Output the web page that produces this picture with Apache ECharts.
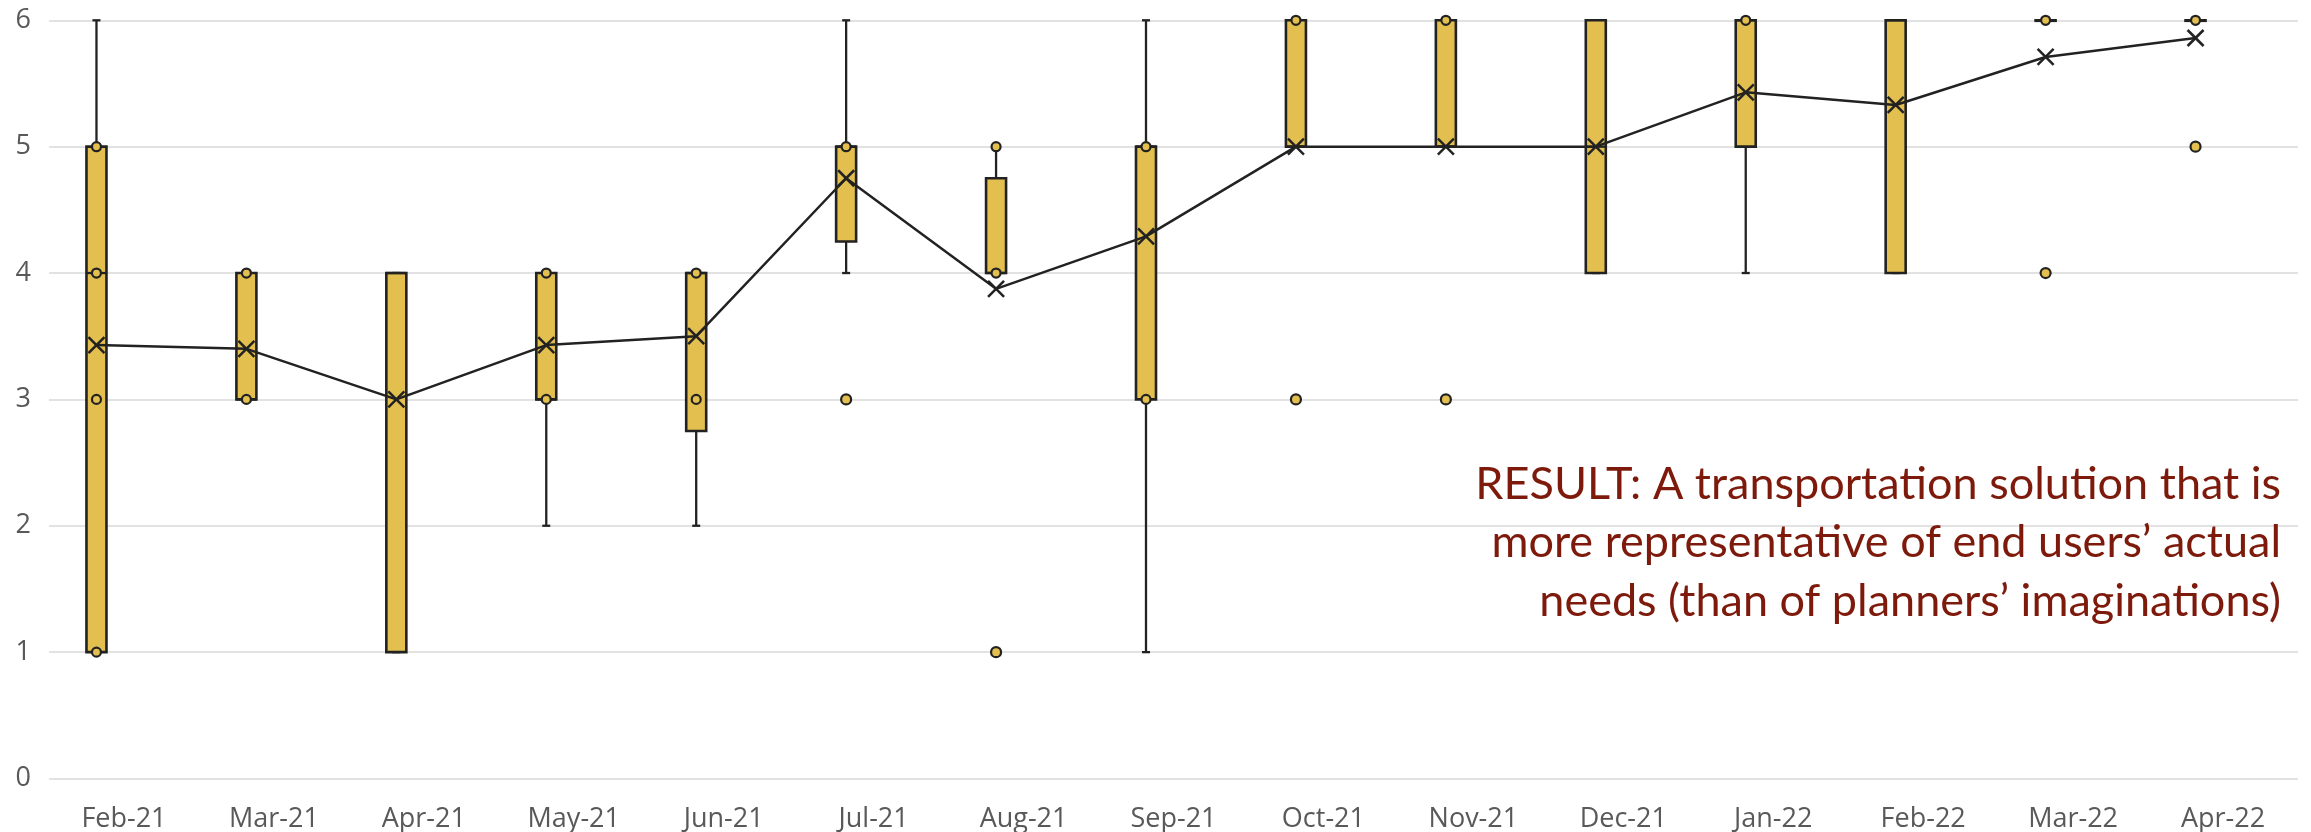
<!DOCTYPE html>
<html><head><meta charset="utf-8">
<script src="https://cdn.jsdelivr.net/npm/echarts@6/dist/echarts.min.js"></script>
<style>html,body{margin:0;padding:0;background:#fff}#c{width:2311px;height:832px}</style>
</head><body><div id="c"></div>
<script>
const categories = ['Feb-21','Mar-21','Apr-21','May-21','Jun-21','Jul-21','Aug-21','Sep-21','Oct-21','Nov-21','Dec-21','Jan-22','Feb-22','Mar-22','Apr-22'];
const whiskerMin = [1, 3, 1, 2, 2,    4,    4,    1, 5, 5, 4, 4, 4, 6, 6];
const q1         = [1, 3, 1, 3, 2.75, 4.25, 4,    3, 5, 5, 4, 5, 4, 6, 6];
const median     = [4, 3, 4, 3, 4,    5,    4,    5, 5, 5, 5, 6, 6, 6, 6];
const q3         = [5, 4, 4, 4, 4,    5,    4.75, 5, 6, 6, 6, 6, 6, 6, 6];
const whiskerMax = [6, 4, 4, 4, 4,    6,    5,    6, 6, 6, 6, 6, 6, 6, 6];
const means      = [3.43, 3.4, 3.0, 3.43, 3.5, 4.75, 3.875, 4.29, 5.0, 5.0, 5.0, 5.43, 5.33, 5.71, 5.86];
const innerPoints = [[1,3,4,5],[3,4],[],[3,4],[3,4],[5],[4,5],[3,5],[6],[6],[],[6],[],[6],[6]];
const outliers    = [[],[],[],[],[],[3],[1],[],[3],[3],[],[],[],[4],[5]];
const yTicks = [0,1,2,3,4,5,6];
const noteLines = ['RESULT: A transportation solution that is',
                   'more representative of end users\u2019 actual',
                   'needs (than of planners\u2019 imaginations)'];

const GOLD = '#E3BF50', INK = '#222222';
const chart = echarts.init(document.getElementById('c'), null, {renderer:'canvas'});

const boxData = categories.map((c,i)=>[i, whiskerMin[i], q1[i], median[i], q3[i], whiskerMax[i]]);
const innerData = [], outData = [];
innerPoints.forEach((arr,i)=>arr.forEach(v=>innerData.push([i,v])));
outliers.forEach((arr,i)=>arr.forEach(v=>outData.push([i,v])));

function renderBox(params, api){
  const i = api.value(0);
  const lo = api.coord([i, api.value(1)]);
  const b1 = api.coord([i, api.value(2)]);
  const md = api.coord([i, api.value(3)]);
  const b3 = api.coord([i, api.value(4)]);
  const hi = api.coord([i, api.value(5)]);
  const x = lo[0], w = 20, cap = 4;
  const ls = {stroke: INK, lineWidth: 2.3};
  return {type:'group', children:[
    {type:'line', shape:{x1:x,y1:hi[1],x2:x,y2:lo[1]}, style:ls},
    {type:'line', shape:{x1:x-cap,y1:hi[1],x2:x+cap,y2:hi[1]}, style:ls},
    {type:'line', shape:{x1:x-cap,y1:lo[1],x2:x+cap,y2:lo[1]}, style:ls},
    {type:'rect', shape:{x:x-w/2,y:b3[1],width:w,height:Math.max(b1[1]-b3[1],0.5)}, style:{fill:GOLD,stroke:INK,lineWidth:2.6}},
    {type:'line', shape:{x1:x-w/2,y1:md[1],x2:x+w/2,y2:md[1]}, style:ls}
  ]};
}
function renderX(params, api){
  const p = api.coord([api.value(0), api.value(1)]);
  const h = 8;
  const ls = {stroke: INK, lineWidth: 2.5};
  return {type:'group', children:[
    {type:'line', shape:{x1:p[0]-h,y1:p[1]-h,x2:p[0]+h,y2:p[1]+h}, style:ls},
    {type:'line', shape:{x1:p[0]-h,y1:p[1]+h,x2:p[0]+h,y2:p[1]-h}, style:ls}
  ]};
}

const TOP = 20.3, BOTTOM = 832-778.5;
const option = {
  backgroundColor:'#fff',
  animation:false,
  grid:[
    {left:49, right:13, top:TOP, bottom:BOTTOM, containLabel:false, outerBoundsMode:'none'},
    {left:21.5, right:40.5, top:TOP, bottom:BOTTOM, containLabel:false, outerBoundsMode:'none'}
  ],
  xAxis:[
    {type:'category', gridIndex:0, data:categories, axisLine:{show:false}, axisTick:{show:false},
     axisLabel:{color:'#595959', fontFamily:'Open Sans', fontSize:27, margin:27}, splitLine:{show:false}},
    {type:'category', gridIndex:1, data:categories, show:false}
  ],
  yAxis:[
    {type:'value', gridIndex:0, min:0, max:6, interval:1, axisLine:{show:false}, axisTick:{show:false},
     axisLabel:{color:'#595959', fontFamily:'Open Sans', fontSize:27, margin:18, formatter:v=>yTicks.includes(v)?String(v):''},
     splitLine:{show:true, lineStyle:{color:'#d9d9d9', width:1.5}}},
    {type:'value', gridIndex:1, min:0, max:6, interval:1, show:false, splitLine:{show:false}}
  ],
  series:[
    {type:'custom', xAxisIndex:1, yAxisIndex:1, renderItem:renderBox, data:boxData, z:2,
     encode:{x:0, y:[1,2,3,4,5]}},
    {type:'line', xAxisIndex:1, yAxisIndex:1, data:means, symbol:'none', z:3,
     lineStyle:{color:INK, width:2.5}},
    {type:'custom', xAxisIndex:1, yAxisIndex:1, renderItem:renderX, z:4,
     data:means.map((m,i)=>[i,m]), encode:{x:0,y:1}},
    {type:'scatter', xAxisIndex:1, yAxisIndex:1, data:innerData, symbol:'circle', symbolSize:9, z:5,
     itemStyle:{color:GOLD, borderColor:INK, borderWidth:2.2, opacity:1}},
    {type:'scatter', xAxisIndex:1, yAxisIndex:1, data:outData, symbol:'circle', symbolSize:10, z:5,
     itemStyle:{color:GOLD, borderColor:INK, borderWidth:2.2, opacity:1}}
  ],
  graphic: noteLines.map((t,k)=>({
    type:'text', x:2281, y:484 + k*58.5, z:10,
    style:{text:t, fill:'#7D1A0C', fontFamily:'Lato', fontSize:45, align:'right', textAlign:'right',
           verticalAlign:'middle', textVerticalAlign:'middle'}
  }))
};
chart.setOption(option);
</script>
</body></html>
